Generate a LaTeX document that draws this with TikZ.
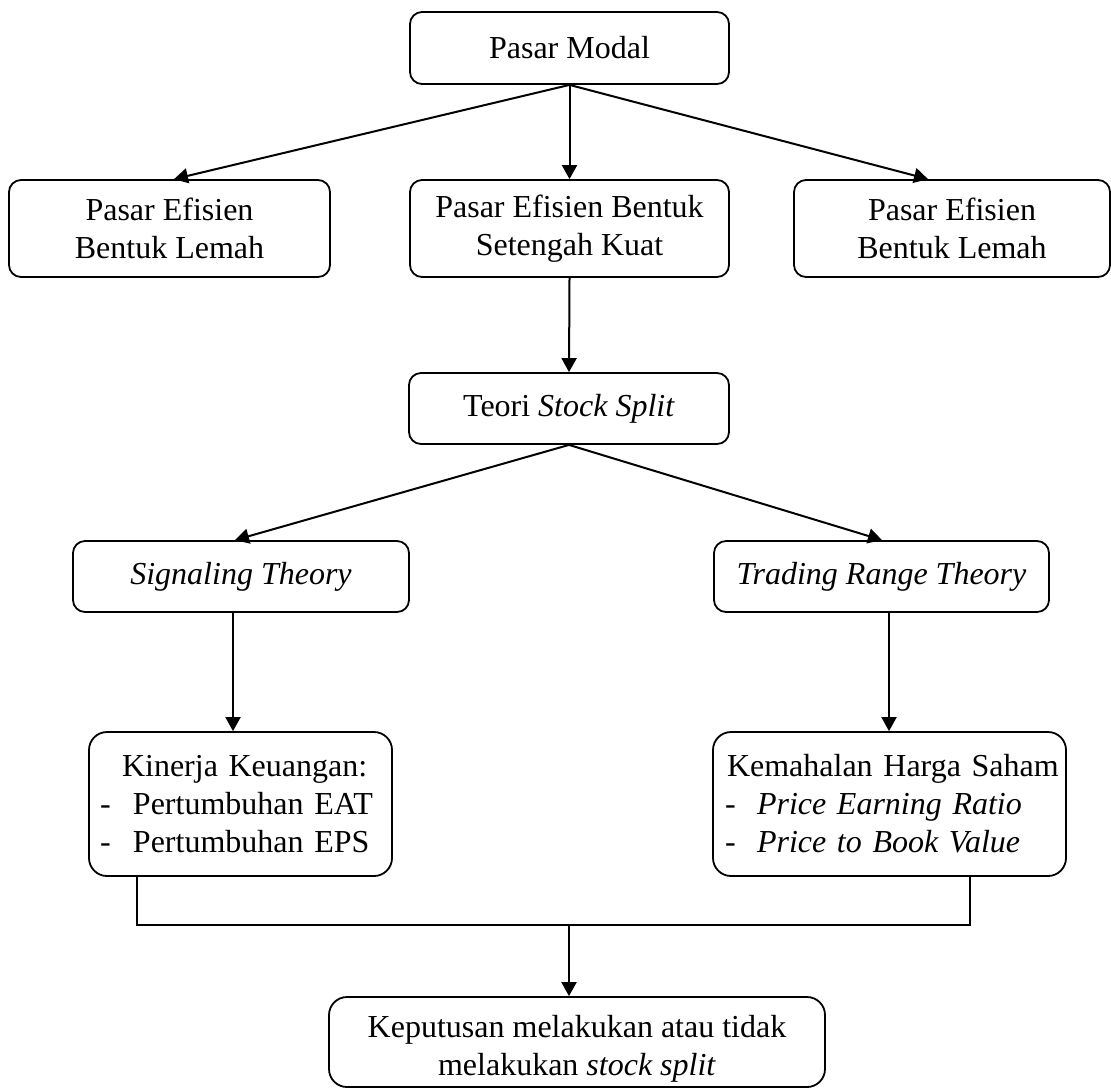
\documentclass[tikz,border=0pt]{standalone}
\usepackage{fontspec}
\setmainfont{Liberation Serif}
\usetikzlibrary{arrows.meta}
\begin{document}
\begin{tikzpicture}[x=0.5pt,y=-0.5pt,
  box/.style={draw, line width=0.9pt, rounded corners=6pt, align=center, inner sep=0pt,
    font=\fontsize{16}{19}\selectfont},
  bigbox/.style={box, rounded corners=9pt},
  arr/.style={line width=1pt, -{Triangle[length=7pt,width=7.5pt]}},
  ln/.style={line width=0.8pt}]
\useasboundingbox (0,0) rectangle (1111,1088);
\node[box, minimum width=159.5pt, minimum height=36pt] (pm) at (569.5,48) {Pasar Modal};
\node[box, minimum width=160.5pt, minimum height=48.5pt] (l1) at (169.5,228.5) {Pasar Efisien\\Bentuk Lemah};
\node[box, minimum width=159.5pt, minimum height=48.5pt] (m1) at (569.5,228.5) {Pasar Efisien Bentuk\\Setengah Kuat};
\node[box, minimum width=158pt, minimum height=48.5pt] (r1) at (952,228.5) {Pasar Efisien\\Bentuk Lemah};
\node[box, minimum width=160pt, minimum height=35.5pt] (ts) at (569,408.5) {Teori \textit{Stock Split}};
\node[box, minimum width=168pt, minimum height=35.5pt] (sg) at (241,576.5) {\textit{Signaling Theory}};
\node[box, minimum width=167.5pt, minimum height=35.5pt] (tr) at (881.5,576.5) {\textit{Trading Range Theory}};
\node[bigbox, minimum height=72pt, inner xsep=5.5pt, text width=140.5pt, align=left] (kn) at (240.5,804)
  {\mbox{\hspace*{11pt}Kinerja Keuangan:}\\
   \mbox{\makebox[16.5pt][l]{-}Pertumbuhan EAT}\\
   \mbox{\makebox[16.5pt][l]{-}Pertumbuhan EPS}};
\node[bigbox, minimum height=72pt, inner xsep=6pt, text width=164.5pt, align=left] (km) at (889.5,804)
  {\mbox{\hspace*{1pt}Kemahalan Harga Saham}\\
   \mbox{\makebox[16pt][l]{-}\textit{Price Earning Ratio}}\\
   \mbox{\makebox[16pt][l]{-}\textit{Price to Book Value}}};
\node[bigbox, minimum width=248pt, minimum height=45pt] (kp) at (577,1042)
  {\raisebox{-3.5pt}[\height][\depth]{\begin{tabular}{@{}c@{}}Keputusan melakukan atau tidak\\melakukan \textit{stock split}\end{tabular}}};

\coordinate (j) at (569,925);
\draw[arr] (pm.south) -- (l1.north -| 174,0);
\draw[arr] (pm.south) -- (m1.north);
\draw[arr] (pm.south) -- (r1.north -| 928,0);
\draw[arr] (m1.south) -- (ts.north);
\draw[arr] (ts.south) -- (sg.north -| 235,0);
\draw[arr] (ts.south) -- (tr.north -| 882,0);
\draw[arr] (sg.south -| 233,0) -- (kn.north -| 233,0);
\draw[arr] (tr.south -| 889,0) -- (km.north -| 889,0);
\draw[ln] (kn.south -| 137,0) |- (j) -| (km.south -| 970,0);
\draw[line width=1.2pt] (137,925) -- (970,925);
\draw[arr] (j) -- (kp.north -| j);
\end{tikzpicture}
\end{document}
